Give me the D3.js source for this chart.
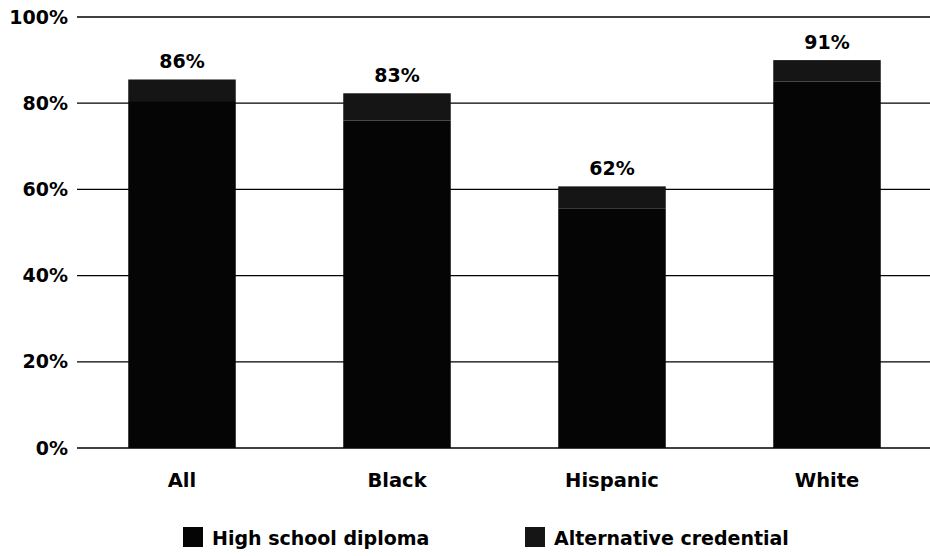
<!DOCTYPE html>
<html><head><meta charset="utf-8">
<script src="https://cdn.jsdelivr.net/npm/d3@7"></script>
<style>body{margin:0;background:#fff}svg{display:block}text{font-family:"DejaVu Sans",Arial,sans-serif;font-weight:bold;fill:#000}</style>
</head><body><svg id="c" width="930" height="556"></svg>
<script>
const categories = ["All", "Black", "Hispanic", "White"];
const diploma = [80.5, 76, 55.5, 85];
const alternative = [5, 6.3, 5.2, 5];
const totalLabels = ["86%", "83%", "62%", "91%"];
const yTicks = [0, 20, 40, 60, 80, 100];
const seriesNames = ["High school diploma", "Alternative credential"];
const seriesColors = ["#050505", "#151515"];

const svg = d3.select("#c");
const x = d3.scaleBand().domain(categories).range([74.5, 934.5]).paddingInner(0.5).paddingOuter(0.25);
const y = d3.scaleLinear().domain([0, 100]).range([448, 17]);

// gridlines
svg.append("g").selectAll("line").data(yTicks).join("line")
  .attr("x1", 77).attr("x2", 930)
  .attr("y1", d => y(d)).attr("y2", d => y(d))
  .attr("stroke", "#000").attr("stroke-width", 1.3);

// tick labels
svg.append("g").selectAll("text").data(yTicks).join("text")
  .attr("x", 68).attr("y", d => y(d)).attr("dy", "0.35em")
  .attr("text-anchor", "end").attr("font-size", 19)
  .text(d => d + "%");

const rows = categories.map((c, i) => ({cat: c, diploma: diploma[i], alternative: alternative[i]}));
const stack = d3.stack().keys(["diploma", "alternative"])(rows);

svg.append("g").selectAll("g").data(stack).join("g")
  .attr("fill", (d, i) => seriesColors[i])
  .selectAll("rect").data(d => d).join("rect")
  .attr("x", d => x(d.data.cat)).attr("width", x.bandwidth())
  .attr("y", d => y(d[1])).attr("height", d => y(d[0]) - y(d[1]));

// value labels
svg.append("g").selectAll("text").data(rows).join("text")
  .attr("x", d => x(d.cat) + x.bandwidth() / 2)
  .attr("y", d => y(d.diploma + d.alternative) - 11)
  .attr("text-anchor", "middle").attr("font-size", 19)
  .text((d, i) => totalLabels[i]);

// category labels
svg.append("g").selectAll("text").data(categories).join("text")
  .attr("x", d => x(d) + x.bandwidth() / 2).attr("y", 487)
  .attr("text-anchor", "middle").attr("font-size", 19.5)
  .text(d => d);

// legend
const legX = [183, 525];
const leg = svg.append("g").selectAll("g").data(seriesNames).join("g")
  .attr("transform", (d, i) => `translate(${legX[i]},537)`);
leg.append("rect").attr("x", 0).attr("y", -10).attr("width", 20).attr("height", 20)
  .attr("fill", (d, i) => seriesColors[i]);
leg.append("text").attr("x", 29).attr("y", 7.5).attr("font-size", 19).text(d => d);
</script></body></html>
